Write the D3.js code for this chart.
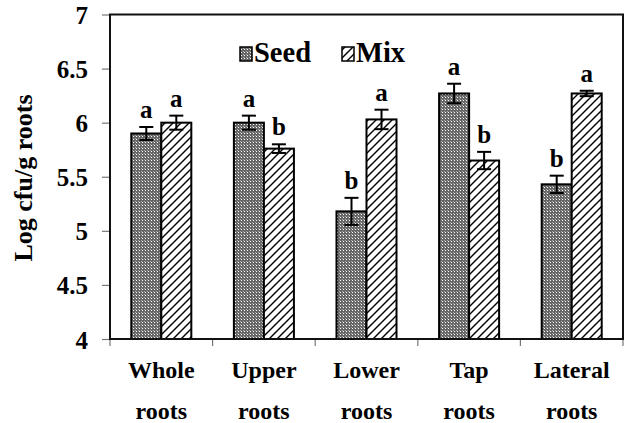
<!DOCTYPE html>
<html>
<head>
<meta charset="utf-8">
<script src="https://cdn.jsdelivr.net/npm/d3@7"></script>
<style>
  html, body { margin: 0; padding: 0; background: #fff; }
  svg { display: block; }
</style>
</head>
<body>
<svg id="chart" width="625" height="423"></svg>
<script>
// ---- data ----
const categories = ["Whole roots", "Upper roots", "Lower roots", "Tap roots", "Lateral roots"];
const series = ["Seed", "Mix"];
const seedValues = [5.90, 6.00, 5.18, 6.27, 5.43];
const seedErrors = [0.06, 0.065, 0.125, 0.09, 0.08];
const seedLetters = ["a", "a", "b", "a", "b"];
const mixValues = [6.00, 5.76, 6.03, 5.65, 6.27];
const mixErrors = [0.065, 0.04, 0.09, 0.08, 0.025];
const mixLetters = ["a", "b", "a", "b", "a"];
const yTicks = [4, 4.5, 5, 5.5, 6, 6.5, 7];
const yTickLabels = ["4", "4.5", "5", "5.5", "6", "6.5", "7"];
const yTitle = "Log cfu/g roots";

const FONT = "'Liberation Serif', 'Times New Roman', Times, 'DejaVu Serif', serif";

// ---- layout ----
const svg = d3.select("#chart");
const mLeft = 110, mRight = 623, mTop = 14.5, mBottom = 339;

const x = d3.scaleBand().domain(categories).range([mLeft, mRight]).paddingInner(0).paddingOuter(0);
const y = d3.scaleLinear().domain([4, 7]).range([mBottom, mTop]);
const groupW = x.bandwidth() * 0.585;
const xi = d3.scaleBand().domain(series)
  .range([(x.bandwidth() - groupW) / 2, (x.bandwidth() + groupW) / 2]).padding(0);

// ---- patterns ----
const defs = svg.append("defs");
const dot = defs.append("pattern").attr("id", "seedPat")
  .attr("patternUnits", "userSpaceOnUse").attr("width", 3).attr("height", 3);
dot.append("rect").attr("width", 3).attr("height", 3).attr("fill", "#666");
dot.append("rect").attr("x", 1).attr("y", 1).attr("width", 1).attr("height", 1).attr("fill", "#ffffff");
dot.append("rect").attr("x", 0).attr("y", 0).attr("width", 1).attr("height", 1).attr("fill", "#aaa");

const hatch = defs.append("pattern").attr("id", "mixPat")
  .attr("patternUnits", "userSpaceOnUse").attr("width", 8).attr("height", 8);
hatch.append("rect").attr("width", 8).attr("height", 8).attr("fill", "#fff");
hatch.append("path").attr("d", "M-2,2 L2,-2 M0,8 L8,0 M6,10 L10,6")
  .attr("stroke", "#000").attr("stroke-width", 1.4);

const fills = { Seed: "url(#seedPat)", Mix: "url(#mixPat)" };

// ---- data rows ----
const rows = [];
categories.forEach((c, i) => {
  rows.push({ cat: c, s: "Seed", v: seedValues[i], e: seedErrors[i], l: seedLetters[i] });
  rows.push({ cat: c, s: "Mix", v: mixValues[i], e: mixErrors[i], l: mixLetters[i] });
});

function styleText(sel, size) {
  return sel.attr("font-family", FONT).style("font-family", FONT)
    .attr("font-weight", "bold").style("font-weight", "bold")
    .style("font-size", size + "px").attr("fill", "#000");
}

// ---- bars ----
svg.append("g").selectAll("rect").data(rows).join("rect")
  .attr("x", d => x(d.cat) + xi(d.s))
  .attr("y", d => y(d.v))
  .attr("width", xi.bandwidth())
  .attr("height", d => y(4) - y(d.v))
  .attr("fill", d => fills[d.s])
  .attr("stroke", "#000").attr("stroke-width", 2);

// ---- error bars ----
const eg = svg.append("g").attr("stroke", "#000").attr("stroke-width", 2);
rows.forEach(d => {
  const cx = x(d.cat) + xi(d.s) + xi.bandwidth() / 2;
  eg.append("line").attr("x1", cx).attr("x2", cx).attr("y1", y(d.v + d.e)).attr("y2", y(d.v - d.e));
  eg.append("line").attr("x1", cx - 7).attr("x2", cx + 7).attr("y1", y(d.v + d.e)).attr("y2", y(d.v + d.e));
  eg.append("line").attr("x1", cx - 7).attr("x2", cx + 7).attr("y1", y(d.v - d.e)).attr("y2", y(d.v - d.e));
});

// ---- significance letters ----
styleText(svg.append("g").selectAll("text").data(rows).join("text")
  .attr("x", d => x(d.cat) + xi(d.s) + xi.bandwidth() / 2)
  .attr("y", d => y(d.v + d.e) - 9)
  .attr("text-anchor", "middle")
  .text(d => d.l), 25);

// ---- axes ----
const yAxis = d3.axisLeft(y).tickValues(yTicks).tickSize(8).tickPadding(14)
  .tickFormat((d, i) => yTickLabels[i]);
const gy = svg.append("g").attr("transform", `translate(${mLeft},0)`).call(yAxis);
gy.attr("font-family", FONT);
gy.select(".domain").remove();
gy.selectAll(".tick line").attr("stroke", "#777").attr("stroke-width", 1.2);
styleText(gy.selectAll(".tick text"), 25).attr("dy", "0.36em").attr("text-anchor", "end");

const xAxis = d3.axisBottom(x).tickSize(0).tickFormat("");
const gx = svg.append("g").attr("transform", `translate(0,${mBottom})`).call(xAxis);
gx.select(".domain").remove();
// category boundary ticks
const bounds = categories.map(c => x(c)).concat([mRight]);
svg.append("g").selectAll("line").data(bounds).join("line")
  .attr("x1", d => d).attr("x2", d => d).attr("y1", mBottom).attr("y2", mBottom + 7)
  .attr("stroke", "#777").attr("stroke-width", 1.2);

// frame
svg.append("rect").attr("x", mLeft).attr("y", mTop).attr("width", mRight - mLeft).attr("height", mBottom - mTop)
  .attr("fill", "none").attr("stroke", "#111").attr("stroke-width", 2);

// category labels
const cl = styleText(svg.append("g").selectAll("text").data(categories).join("text")
  .attr("text-anchor", "middle"), 24);
cl.each(function(c) {
  const parts = c.split(" ");
  const t = d3.select(this);
  const cx = x(c) + x.bandwidth() / 2;
  t.append("tspan").attr("x", cx).attr("y", 378).text(parts[0]);
  t.append("tspan").attr("x", cx).attr("y", 419).text(parts[1]);
});

// y title
styleText(svg.append("text")
  .attr("transform", `translate(32,178) rotate(-90)`)
  .attr("text-anchor", "middle")
  .text(yTitle), 26);

// legend
const legendX = [240, 342];
const lg = svg.append("g");
series.forEach((s, i) => {
  lg.append("rect").attr("x", legendX[i]).attr("y", 47).attr("width", 12).attr("height", 14)
    .attr("fill", fills[s]).attr("stroke", "#000").attr("stroke-width", 1.5);
  styleText(lg.append("text").attr("x", legendX[i] + 14).attr("y", 62).text(s), 28.5);
});
</script>
</body>
</html>
